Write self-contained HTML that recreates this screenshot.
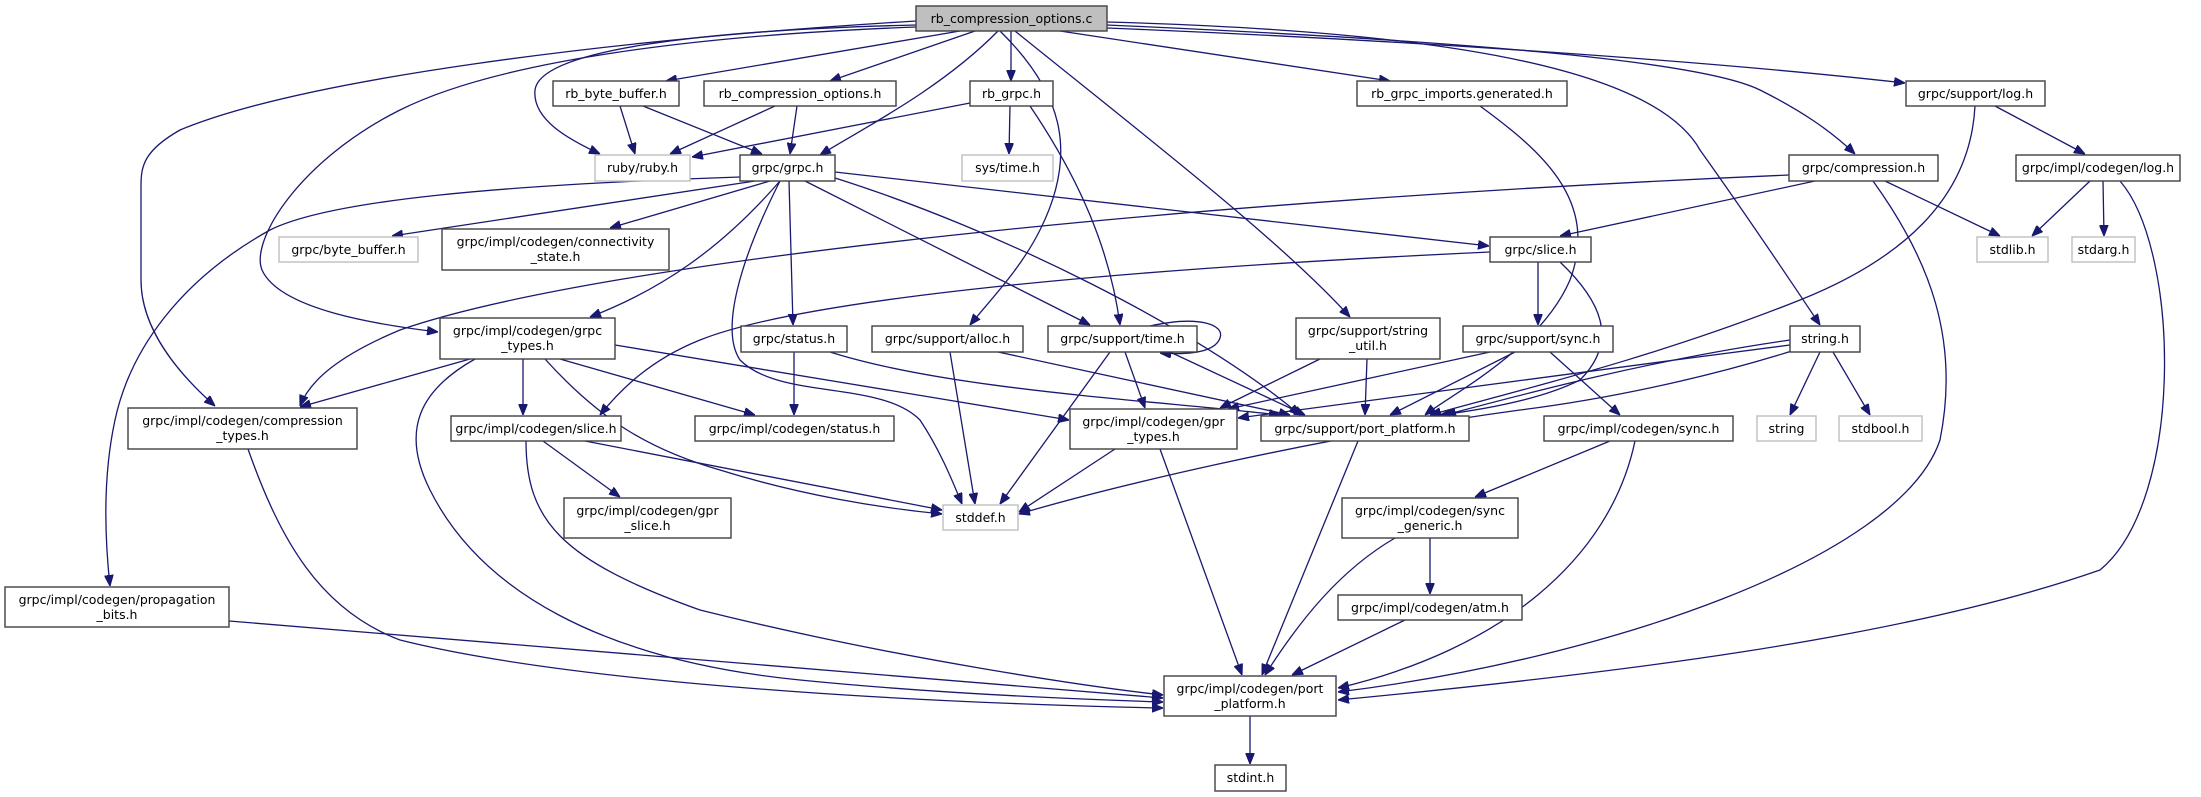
<!DOCTYPE html>
<html><head><meta charset="utf-8"><style>
html,body{margin:0;padding:0;background:#fff;}
svg{display:block;}
text{font-family:"DejaVu Sans","Liberation Sans",sans-serif;font-size:12.5px;fill:#000;text-anchor:middle;}
.e{fill:none;stroke:#191970;stroke-width:1.3;marker-end:url(#a);}
.n{fill:#fff;stroke:#404040;stroke-width:1.4;}
.g{fill:#fff;stroke:#bfbfbf;stroke-width:1.4;}
</style></head><body>
<svg width="2201" height="797" viewBox="0 0 2201 797" xmlns="http://www.w3.org/2000/svg">
<defs><marker id="a" viewBox="0 0 10 8" refX="10" refY="4" markerWidth="11" markerHeight="9" markerUnits="userSpaceOnUse" orient="auto"><path d="M0,0 L10,4 L0,8 z" fill="#191970" stroke="#191970"/></marker></defs>

<!-- edges -->
<path class="e" d="M960,31 L666,81"/>
<path class="e" d="M975,31 L830,81"/>
<path class="e" d="M1011,31 L1011,81"/>
<path class="e" d="M998,31 C940,90 860,130 820,155"/>
<path class="e" d="M916,25 C700,30 540,50 535,90 C532,120 570,140 600,154"/>
<path class="e" d="M916,27 C700,35 500,60 400,110 C300,160 250,240 262,270 C280,310 380,325 438,332"/>
<path class="e" d="M916,21 C600,40 300,80 180,130 C145,150 141,165 141,185 L141,280 C141,330 180,375 215,406"/>
<path class="e" d="M1000,31 C1060,90 1080,150 1040,230 C1020,270 990,300 970,325"/>
<path class="e" d="M1015,31 C1150,140 1280,240 1350,317"/>
<path class="e" d="M1107,22 C1400,30 1650,60 1700,150 C1750,220 1790,280 1820,325"/>
<path class="e" d="M1107,25 C1450,40 1700,60 1760,90 C1800,110 1830,130 1855,154"/>
<path class="e" d="M1107,28 C1400,40 1700,60 1905,83"/>
<path class="e" d="M1060,31 L1390,81"/>
<path class="e" d="M620,106 L635,154"/>
<path class="e" d="M643,106 L762,154"/>
<path class="e" d="M775,106 L670,154"/>
<path class="e" d="M797,106 L790,154"/>
<path class="e" d="M970,103 L692,157"/>
<path class="e" d="M1010,106 L1009,154"/>
<path class="e" d="M1030,106 C1080,180 1110,250 1120,325"/>
<path class="e" d="M1480,106 C1540,150 1600,200 1570,280 C1540,350 1450,395 1425,415"/>
<path class="e" d="M1995,106 L2085,154"/>
<path class="e" d="M1975,106 C1970,200 1900,260 1800,300 C1650,360 1500,395 1430,415"/>
<path class="e" d="M1885,181 L2000,236"/>
<path class="e" d="M1815,181 L1560,236"/>
<path class="e" d="M1789,175 C1200,200 600,260 400,330 C340,355 310,380 300,406"/>
<path class="e" d="M1873,181 C1930,260 1960,340 1940,440 C1900,560 1600,660 1338,692"/>
<path class="e" d="M2090,181 L2032,236"/>
<path class="e" d="M2103,181 L2104,236"/>
<path class="e" d="M2120,181 C2180,250 2185,500 2100,570 C1900,640 1600,675 1338,700"/>
<path class="e" d="M755,181 L392,236"/>
<path class="e" d="M770,181 L610,228"/>
<path class="e" d="M780,181 C720,250 660,290 590,317"/>
<path class="e" d="M789,181 L793,325"/>
<path class="e" d="M805,181 L1090,325"/>
<path class="e" d="M835,178 C1000,230 1200,330 1300,415"/>
<path class="e" d="M835,172 L1489,246"/>
<path class="e" d="M780,181 C740,260 720,330 740,360 C780,400 880,380 920,420 C940,450 952,480 962,504"/>
<path class="e" d="M740,177 C500,185 330,200 270,230 C180,280 130,350 115,420 C102,480 105,540 110,586"/>
<path class="e" d="M470,359 L300,407"/>
<path class="e" d="M523,359 L523,415"/>
<path class="e" d="M560,359 L755,415"/>
<path class="e" d="M545,359 C600,420 650,450 720,470 C800,495 880,508 942,514"/>
<path class="e" d="M615,345 L1069,420"/>
<path class="e" d="M475,359 C420,390 400,430 430,490 C480,590 600,660 800,680 C950,695 1100,700 1163,702"/>
<path class="e" d="M248,449 C280,540 320,610 400,640 C600,690 1000,705 1163,708"/>
<path class="e" d="M229,621 L1163,698"/>
<path class="e" d="M543,441 L620,497"/>
<path class="e" d="M585,441 L942,510"/>
<path class="e" d="M526,441 C526,520 560,560 700,610 C900,660 1100,688 1163,695"/>
<path class="e" d="M794,352 L794,415"/>
<path class="e" d="M830,352 C950,390 1150,400 1280,415"/>
<path class="e" d="M950,352 L975,504"/>
<path class="e" d="M998,352 L1290,415"/>
<path class="e" d="M1150,326 C1200,315 1225,325 1220,338 C1215,352 1190,355 1160,353"/>
<path class="e" d="M1110,352 L1000,504"/>
<path class="e" d="M1125,352 L1145,408"/>
<path class="e" d="M1170,352 L1305,415"/>
<path class="e" d="M1320,359 L1220,408"/>
<path class="e" d="M1367,359 L1365,415"/>
<path class="e" d="M1490,352 L1228,409"/>
<path class="e" d="M1515,352 L1390,415"/>
<path class="e" d="M1550,352 L1620,415"/>
<path class="e" d="M1490,252 C1100,270 800,300 700,340 C650,360 620,390 600,415"/>
<path class="e" d="M1538,262 L1538,325"/>
<path class="e" d="M1560,262 C1600,300 1620,340 1580,380 C1540,400 1480,410 1440,415"/>
<path class="e" d="M1820,352 L1790,415"/>
<path class="e" d="M1833,352 L1870,415"/>
<path class="e" d="M1795,350 C1700,380 1600,400 1520,410 C1300,440 1100,490 1019,514"/>
<path class="e" d="M1790,340 C1650,360 1520,395 1445,415"/>
<path class="e" d="M1790,345 C1600,370 1400,395 1238,418"/>
<path class="e" d="M1115,449 L1019,512"/>
<path class="e" d="M1160,449 L1242,675"/>
<path class="e" d="M1358,441 L1262,675"/>
<path class="e" d="M1610,441 L1475,497"/>
<path class="e" d="M1635,441 C1610,560 1500,650 1338,688"/>
<path class="e" d="M1430,538 L1430,594"/>
<path class="e" d="M1395,538 C1340,570 1300,620 1265,675"/>
<path class="e" d="M1405,620 L1292,675"/>
<path class="e" d="M1250,716 L1250,764"/>

<!-- nodes -->
<rect x="916" y="6" width="191" height="25" fill="#bfbfbf" stroke="#404040" stroke-width="1.4"/><text x="1011.5" y="23">rb_compression_options.c</text>
<rect class="n" x="553" y="81" width="126" height="25"/><text x="616" y="98">rb_byte_buffer.h</text>
<rect class="n" x="704" y="81" width="192" height="25"/><text x="800" y="98">rb_compression_options.h</text>
<rect class="n" x="970" y="81" width="83" height="25"/><text x="1011.5" y="98">rb_grpc.h</text>
<rect class="n" x="1357" y="81" width="210" height="25"/><text x="1462" y="98">rb_grpc_imports.generated.h</text>
<rect class="n" x="1906" y="81" width="139" height="25"/><text x="1975.5" y="98">grpc/support/log.h</text>
<rect class="g" x="595" y="155" width="95" height="26"/><text x="642.5" y="172">ruby/ruby.h</text>
<rect class="n" x="740" y="155" width="95" height="26"/><text x="787.5" y="172">grpc/grpc.h</text>
<rect class="g" x="962" y="155" width="91" height="26"/><text x="1007.5" y="172">sys/time.h</text>
<rect class="n" x="1789" y="155" width="149" height="26"/><text x="1863.5" y="172">grpc/compression.h</text>
<rect class="n" x="2016" y="155" width="164" height="26"/><text x="2098" y="172">grpc/impl/codegen/log.h</text>
<rect class="g" x="279" y="237" width="139" height="25"/><text x="348.5" y="254">grpc/byte_buffer.h</text>
<rect class="n" x="442" y="229" width="227" height="41"/><text x="555.5" y="246">grpc/impl/codegen/connectivity</text><text x="555.5" y="261">_state.h</text>
<rect class="n" x="1490" y="237" width="101" height="25"/><text x="1540.5" y="254">grpc/slice.h</text>
<rect class="g" x="1977" y="237" width="71" height="25"/><text x="2012.5" y="254">stdlib.h</text>
<rect class="g" x="2072" y="237" width="63" height="25"/><text x="2103.5" y="254">stdarg.h</text>
<rect class="n" x="440" y="318" width="175" height="41"/><text x="527.5" y="335">grpc/impl/codegen/grpc</text><text x="527.5" y="350">_types.h</text>
<rect class="n" x="741" y="326" width="106" height="26"/><text x="794" y="343">grpc/status.h</text>
<rect class="n" x="872" y="326" width="151" height="26"/><text x="947.5" y="343">grpc/support/alloc.h</text>
<rect class="n" x="1048" y="326" width="149" height="26"/><text x="1122.5" y="343">grpc/support/time.h</text>
<rect class="n" x="1296" y="318" width="144" height="41"/><text x="1368" y="335">grpc/support/string</text><text x="1368" y="350">_util.h</text>
<rect class="n" x="1463" y="326" width="150" height="26"/><text x="1538" y="343">grpc/support/sync.h</text>
<rect class="n" x="1790" y="326" width="70" height="26"/><text x="1825" y="343">string.h</text>
<rect class="n" x="128" y="408" width="229" height="41"/><text x="242.5" y="425">grpc/impl/codegen/compression</text><text x="242.5" y="440">_types.h</text>
<rect class="n" x="451" y="416" width="170" height="25"/><text x="536" y="433">grpc/impl/codegen/slice.h</text>
<rect class="n" x="695" y="416" width="199" height="25"/><text x="794.5" y="433">grpc/impl/codegen/status.h</text>
<rect class="n" x="1070" y="409" width="167" height="40"/><text x="1153.5" y="426">grpc/impl/codegen/gpr</text><text x="1153.5" y="441">_types.h</text>
<rect class="n" x="1261" y="416" width="208" height="25"/><text x="1365" y="433">grpc/support/port_platform.h</text>
<rect class="n" x="1544" y="416" width="189" height="25"/><text x="1638.5" y="433">grpc/impl/codegen/sync.h</text>
<rect class="g" x="1757" y="416" width="59" height="25"/><text x="1786.5" y="433">string</text>
<rect class="g" x="1839" y="416" width="83" height="25"/><text x="1880.5" y="433">stdbool.h</text>
<rect class="n" x="564" y="498" width="167" height="40"/><text x="647.5" y="515">grpc/impl/codegen/gpr</text><text x="647.5" y="530">_slice.h</text>
<rect class="g" x="943" y="505" width="75" height="25"/><text x="980.5" y="522">stddef.h</text>
<rect class="n" x="1342" y="498" width="176" height="40"/><text x="1430" y="515">grpc/impl/codegen/sync</text><text x="1430" y="530">_generic.h</text>
<rect class="n" x="1338" y="595" width="184" height="25"/><text x="1430" y="612">grpc/impl/codegen/atm.h</text>
<rect class="n" x="5" y="587" width="224" height="40"/><text x="117" y="604">grpc/impl/codegen/propagation</text><text x="117" y="619">_bits.h</text>
<rect class="n" x="1164" y="676" width="172" height="40"/><text x="1250" y="693">grpc/impl/codegen/port</text><text x="1250" y="708">_platform.h</text>
<rect class="n" x="1215" y="765" width="71" height="26"/><text x="1250.5" y="782">stdint.h</text>
</svg>
</body></html>
